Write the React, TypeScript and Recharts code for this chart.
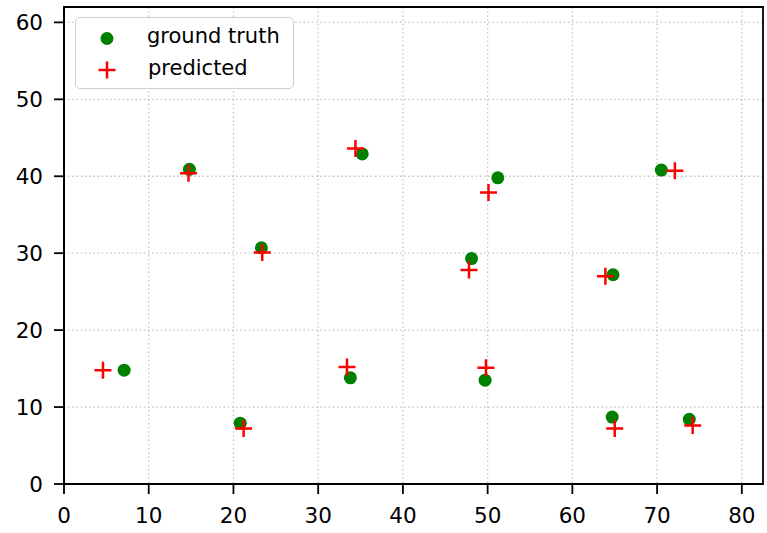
import { ScatterChart, Scatter, XAxis, YAxis, CartesianGrid, ReferenceArea } from "recharts"

const gtX = [7.1, 14.8, 20.8, 23.3, 33.8, 35.2, 48.1, 49.7, 51.2, 64.8, 64.7, 70.5, 73.8]
const gtY = [14.8, 40.9, 7.9, 30.7, 13.8, 42.9, 29.3, 13.5, 39.8, 27.2, 8.7, 40.8, 8.4]
const predX = [4.6, 14.7, 21.2, 23.4, 33.4, 34.4, 47.8, 49.8, 50.1, 63.9, 65.0, 72.1, 74.2]
const predY = [14.8, 40.4, 7.2, 30.1, 15.2, 43.6, 27.8, 15.1, 37.9, 27.0, 7.2, 40.7, 7.6]
const xTicks = [0, 10, 20, 30, 40, 50, 60, 70, 80]
const yTicks = [0, 10, 20, 30, 40, 50, 60]
const xMax = 82.5
const yMax = 62

const groundTruth = gtX.map((x, i) => ({ x, y: gtY[i] }))
const predicted = predX.map((x, i) => ({ x, y: predY[i] }))

const GREEN = "#008000"
const RED = "#ff0000"
const FONT = "'DejaVu Sans', sans-serif"

const Dot = (props: any) => <circle cx={props.cx} cy={props.cy} r={6.5} fill={GREEN} />

const Cross = (props: any) => {
  const { cx, cy } = props
  return (
    <path
      d={`M${cx - 8.5},${cy} H${cx + 8.5} M${cx},${cy - 8.5} V${cy + 8.5}`}
      stroke={RED}
      strokeWidth={2.5}
      fill="none"
    />
  )
}

// legend drawn as an overlay so it doesn't eat into the plot area
function LegendBox() {
  return (
    <div
      style={{
        position: "absolute",
        left: 75,
        top: 17,
        width: 219,
        height: 72,
        boxSizing: "border-box",
        border: "1.5px solid #cfcfcf",
        borderRadius: 5,
        background: "rgba(255,255,255,0.85)",
        fontFamily: FONT,
        fontSize: 21,
        color: "#000",
      }}
    >
      <svg width={40} height={70} style={{ position: "absolute", left: 0, top: 0 }}>
        <circle cx={31} cy={20.5} r={6.5} fill={GREEN} />
        <path d="M22.5,52 H39.5 M31,43.5 V60.5" stroke={RED} strokeWidth={2.5} />
      </svg>
      <div style={{ position: "absolute", left: 71, top: 3, lineHeight: "30px" }}>ground truth</div>
      <div style={{ position: "absolute", left: 72, top: 35, lineHeight: "30px" }}>predicted</div>
    </div>
  )
}

export default function App() {
  return (
    <div style={{ position: "absolute", left: 0, top: 0, background: "#fff" }}>
      <ScatterChart width={767} height={533} margin={{ top: 7, right: 4, left: 0, bottom: 0 }}>
        <CartesianGrid stroke="#c4c4c4" strokeWidth={1.3} strokeDasharray="1.5 2.7" />
        <XAxis
          type="number"
          dataKey="x"
          domain={[0, xMax]}
          ticks={xTicks}
          allowDataOverflow
          height={49}
          tickSize={10}
          tickMargin={14}
          axisLine={{ stroke: "#000", strokeWidth: 1.8 }}
          tickLine={{ stroke: "#000", strokeWidth: 1.8 }}
          tick={{ fill: "#000", fontSize: 21.5, fontFamily: FONT }}
        />
        <YAxis
          type="number"
          dataKey="y"
          domain={[0, yMax]}
          ticks={yTicks}
          allowDataOverflow
          width={64}
          tickSize={10}
          tickMargin={11}
          axisLine={{ stroke: "#000", strokeWidth: 1.8 }}
          tickLine={{ stroke: "#000", strokeWidth: 1.8 }}
          tick={{ fill: "#000", fontSize: 21.5, fontFamily: FONT }}
        />
        <ReferenceArea x1={0} x2={xMax} y1={0} y2={yMax} fill="none" stroke="#000" strokeWidth={1.8} />
        <Scatter name="ground truth" data={groundTruth} shape={Dot} isAnimationActive={false} />
        <Scatter name="predicted" data={predicted} shape={Cross} isAnimationActive={false} />
      </ScatterChart>
      <LegendBox />
    </div>
  )
}
